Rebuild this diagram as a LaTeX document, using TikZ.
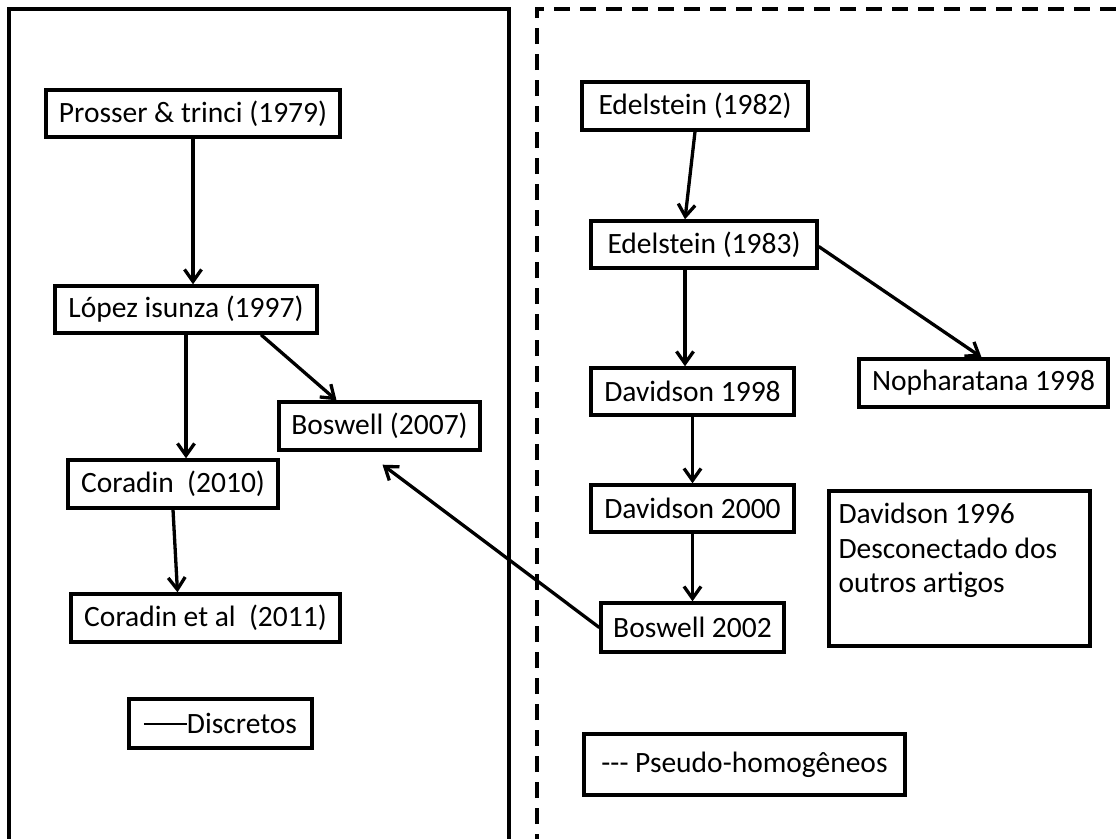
\documentclass[tikz,border=0pt]{standalone}
\usepackage{fontspec}
\setmainfont{Carlito}
\usetikzlibrary{arrows.meta}
\begin{document}
\begin{tikzpicture}[x=1pt,y=-1pt,
  ref/.style={draw, line width=3.4pt, inner sep=0pt, align=center,
    font=\fontsize{29.5pt}{34.5pt}\selectfont},
  link/.style={line width=3.3pt, -{Straight Barb[length=12pt,width=17pt,line width=3.3pt]}},
  frame/.style={line width=3.4pt}]
\useasboundingbox (0,0) rectangle (1118,838);
\fill[white] (0,0) rectangle (1118,838);

% the two groups
\draw[frame] (9,850) -- (9,9) -- (509,9) -- (509,850);
\draw[frame, line width=3.2pt, dash pattern=on 16pt off 10pt] (537,850) -- (537,9) -- (1130,9);

% discrete models
\node[ref, minimum width=294pt, minimum height=47pt] (pt) at (193,113.5) {Prosser \& trinci (1979)};
\node[ref, minimum width=262pt, minimum height=47pt] (lopez) at (186,309.5) {López isunza (1997)};
\node[ref, minimum width=201pt, minimum height=48pt] (bos07) at (379.5,426) {Boswell (2007)};
\node[ref, minimum width=210pt, minimum height=48pt] (cor10) at (173,484) {Coradin\ \ (2010)};
\node[ref, minimum width=269pt, minimum height=48pt] (cor11) at (205.5,618) {Coradin et al\ \ (2011)};
\node[ref, minimum width=183pt, minimum height=49pt] (disc) at (220.5,723.5) {\rule[9pt]{43pt}{1.8pt}Discretos};

% pseudo-homogeneous models
\node[ref, minimum width=226pt, minimum height=48pt] (ed82) at (695,106) {Edelstein (1982)};
\node[ref, minimum width=226pt, minimum height=47pt] (ed83) at (704,244.5) {Edelstein (1983)};
\node[ref, minimum width=203pt, minimum height=47pt] (dav98) at (692.5,391.5) {Davidson 1998};
\node[ref, minimum width=249pt, minimum height=48pt] (nop) at (983.5,383) {Nopharatana 1998};
\node[ref, minimum width=203pt, minimum height=47pt] (dav00) at (692.5,508.5) {Davidson 2000};
\node[ref, minimum width=183pt, minimum height=49pt] (bos02) at (692.5,627.5) {Boswell 2002};
\node[ref, minimum width=261pt, minimum height=155pt] (d96) at (959.5,568.5) {};
\node[anchor=north west, inner sep=0pt, align=left,
  font=\fontsize{29.5pt}{34.5pt}\selectfont] (d96txt) at ([xshift=11pt,yshift=-14pt]d96.north west)
  {Davidson 1996\\Desconectado dos\\outros artigos};
\node[ref, minimum width=321pt, minimum height=61pt] (pseudo) at (744.5,764.5) {-{}-{}- Pseudo-homogêneos};

% citations
\draw[link] (pt.south) -- (pt.south |- lopez.north);
\draw[link] (lopez.south) -- (lopez.south |- cor10.north);
\draw[link] ([xshift=75pt]lopez.south) -- ([xshift=-43pt]bos07.north);
\draw[link] (cor10.south) -- ([xshift=-28pt]cor11.north);
\draw[link] (bos02.west) -- ([xshift=3pt,yshift=-13pt]bos07.south);
\draw[link] (ed82.south) -- ([xshift=-19pt]ed83.north);
\draw[link] ([yshift=-2pt]ed83.east) -- ([xshift=-2pt]nop.north);
\draw[link] ([xshift=-19pt]ed83.south) -- ([xshift=-19pt]ed83.south |- dav98.north);
\draw[link] (dav98.south) -- (dav00.north);
\draw[link] (dav00.south) -- (bos02.north);
\end{tikzpicture}
\end{document}
